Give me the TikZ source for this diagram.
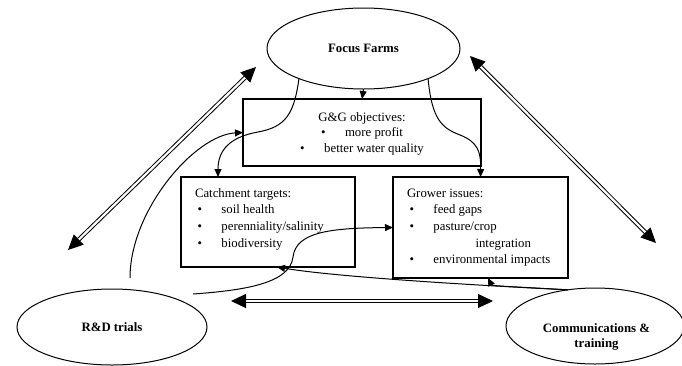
\documentclass[tikz,border=0pt]{standalone}
\usepackage{fontspec}
\setmainfont{Liberation Serif}
\usetikzlibrary{arrows.meta,shapes.geometric}
\newcommand\mybl{\hspace{2.5pt}\makebox[24pt][l]{\textbullet}}
\begin{document}
\begin{tikzpicture}[x=1pt,y=-1pt,
  every node/.style={inner sep=0pt, outer sep=0pt},
  ell/.style={draw, ellipse, line width=1pt, font=\fontsize{12.8}{15.5}\selectfont\bfseries},
  boxnode/.style={draw, rectangle, line width=1.6pt},
  txt/.style={font=\fontsize{12.8}{16.7}\selectfont, anchor=base west},
  conn/.style={line width=1pt, -{Triangle[length=8pt,width=7pt]}},
  bigarrow/.style={line width=1pt, double, double distance=2.2pt, {Triangle[length=15pt,width=14pt]}-{Triangle[length=15pt,width=14pt]}}
]
\useasboundingbox (0,0) rectangle (682,365);
% ellipses
\node[ell, minimum width=193pt, minimum height=81pt] (ff) at (363.5,48.5) {Focus Farms};
\node[ell, minimum width=190pt, minimum height=76pt] (rd) at (112,327) {R\&D trials};
\node[ell, minimum width=178pt, minimum height=76pt] (cm) at (595,326) {};
\node[font=\fontsize{12.8}{15.5}\selectfont\bfseries, anchor=base] (cmtxt) at (596.5,332)
  {\begin{tabular}[t]{@{}c@{}}Communications \&\\ training\end{tabular}};
% boxes
\node[boxnode, minimum width=238pt, minimum height=67pt] (gg) at (362,132.5) {};
\node[boxnode, minimum width=174pt, minimum height=90pt] (cat) at (268,222) {};
\node[boxnode, minimum width=175pt, minimum height=101pt] (gr) at (480.5,227.5) {};
% box texts
\node[font=\fontsize{12.8}{15.6}\selectfont, anchor=base] (ggtxt) at (362,121)
  {\begin{tabular}[t]{@{}c@{}}G\&G objectives:\\ \makebox[24pt][l]{\textbullet}more profit\\ \makebox[24pt][l]{\textbullet}better water quality\end{tabular}};
\node[txt] (cattxt) at (195,197)
  {\begin{tabular}[t]{@{}l@{}}Catchment targets:\\ \mybl soil health\\ \mybl perenniality/salinity\\ \mybl biodiversity\end{tabular}};
\node[txt] (grtxt) at (407,197)
  {\begin{tabular}[t]{@{}l@{}}Grower issues:\\ \mybl feed gaps\\ \mybl pasture/crop\\ \hspace{68.5pt}integration\\ \mybl environmental impacts\end{tabular}};
% connectors
\draw[conn] (ff.south) -- (gg.north);
\draw[conn] (ff.205) .. controls (294,115) and (285,127) .. (258,132) .. controls (230,137) and (218,150) .. ([xshift=37pt]cat.north west);
\draw[conn] (ff.335) .. controls (432,120) and (442,128) .. (460,135) .. controls (478,142) and (481,152) .. (gr.north);
\draw[conn] ([xshift=18pt,yshift=11pt]rd.north) .. controls (130,210) and (195,135) .. (gg.west);
\draw[conn] ([xshift=-14pt,yshift=33pt]rd.east) .. controls (250,290) and (290,282) .. (293,257) .. controls (296,232) and (330,228) .. (gr.west);
\draw[conn] (cm.127) .. controls (450,284) and (330,276) .. ([xshift=9pt]cat.south);
\draw[conn] (cm.127) .. controls (520,287) and (492,286) .. ([xshift=7.5pt]gr.south);
% big double arrows
\coordinate (a1) at (68,250); \coordinate (a2) at (256,67);
\coordinate (b1) at (470,56); \coordinate (b2) at (656,243);
\coordinate (c1) at (231,301); \coordinate (c2) at (493,301);
\draw[bigarrow] (a1) -- (a2);
\draw[bigarrow] (b1) -- (b2);
\draw[bigarrow] (c1) -- (c2);
\end{tikzpicture}
\end{document}
